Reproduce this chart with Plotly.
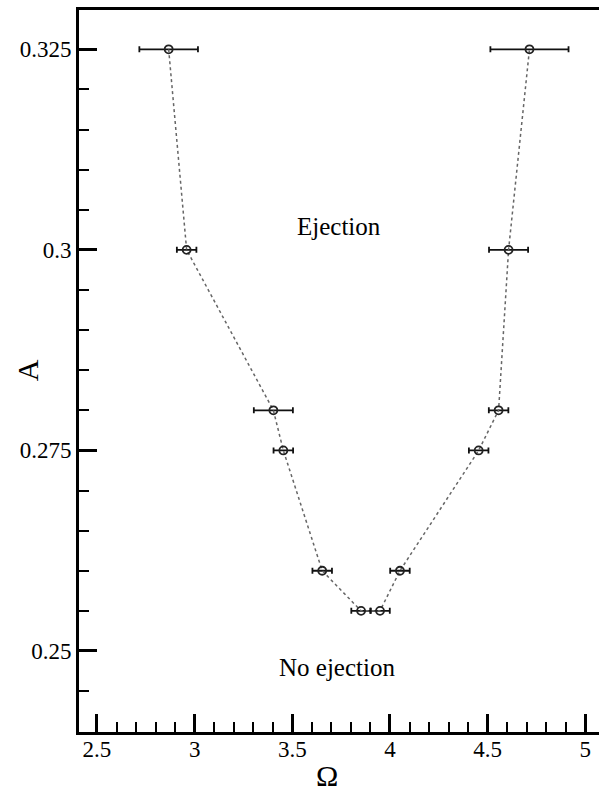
"""
Ejection boundary in the (Omega, A) plane
"""

import plotly.graph_objects as go

# Boundary points, left branch then right branch
omega = [2.867, 2.959, 3.403, 3.454, 3.653, 3.852, 3.949, 4.051, 4.454, 4.556, 4.607, 4.714]
amplitude = [0.325, 0.3, 0.28, 0.275, 0.26, 0.255, 0.255, 0.26, 0.275, 0.28, 0.3, 0.325]
omega_err = [0.15, 0.05, 0.1, 0.05, 0.05, 0.05, 0.05, 0.05, 0.05, 0.05, 0.1, 0.2]

x_ticks = [2.5, 3, 3.5, 4, 4.5, 5]
y_ticks = [0.25, 0.275, 0.3, 0.325]

region_labels = ['Ejection', 'No ejection']
region_x = [3.74, 3.73]
region_y = [0.3029, 0.248]

FONT = 'Liberation Serif, Times New Roman, serif'

fig = go.Figure()

fig.add_trace(
    go.Scatter(
        x=omega,
        y=amplitude,
        mode='lines+markers',
        line=dict(color='#666666', width=1.5, dash='dot'),
        marker=dict(symbol='circle-open', size=8, color='#222222', line=dict(width=1.8)),
        error_x=dict(type='data', array=omega_err, visible=True,
                     color='#111111', thickness=1.8, width=3),
        showlegend=False
    )
)

for text, x, y in zip(region_labels, region_x, region_y):
    fig.add_annotation(x=x, y=y, text=text, showarrow=False,
                       font=dict(family=FONT, size=25, color='black'))

# axis titles placed by hand
fig.add_annotation(x=-0.1, y=0.501, xref='paper', yref='paper', text='A',
                   xanchor='center', yanchor='middle',
                   textangle=-90, showarrow=False,
                   font=dict(family=FONT, size=30, color='black'))
fig.add_annotation(x=0.477, y=-0.0596, xref='paper', yref='paper', text='Ω',
                   xanchor='center', yanchor='middle',
                   showarrow=False,
                   font=dict(family=FONT, size=30, color='black'))

fig.update_layout(
    width=599, height=794,
    margin=dict(l=79, r=0, t=10, b=62),
    plot_bgcolor='white',
    paper_bgcolor='white',
    font=dict(family=FONT, size=23, color='black'),
    showlegend=False
)

fig.update_xaxes(
    range=[2.408, 5.07],
    tickvals=x_ticks,
    ticks='inside', ticklen=18, tickwidth=3, tickcolor='black',
    ticklabelstandoff=-6,
    minor=dict(dtick=0.1, ticks='inside', ticklen=10, tickwidth=2, tickcolor='black'),
    showline=True, linewidth=3, linecolor='black', mirror=True,
    showgrid=False, zeroline=False, automargin=False
)

fig.update_yaxes(
    range=[0.2399, 0.3299],
    tickvals=y_ticks,
    ticks='inside', ticklen=18, tickwidth=3, tickcolor='black',
    minor=dict(dtick=0.005, ticks='inside', ticklen=10, tickwidth=2, tickcolor='black'),
    showline=True, linewidth=3, linecolor='black',
    showgrid=False, zeroline=False, automargin=False
)

# drop the default page margin so the figure sits at the window corner
fig.write_html("out.html", config={'displayModeBar': False},
               post_script="document.body.style.margin='0';")
